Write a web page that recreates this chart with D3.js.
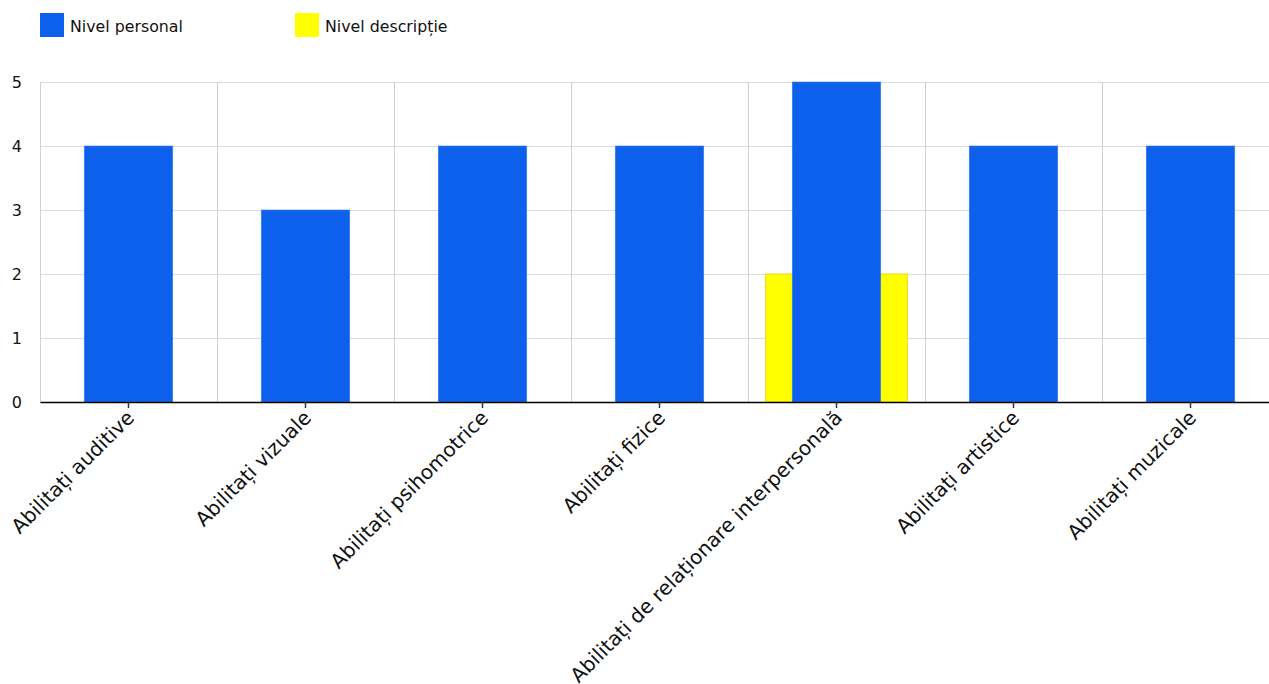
<!DOCTYPE html>
<html>
<head>
<meta charset="utf-8">
<script src="https://cdn.jsdelivr.net/npm/d3@7"></script>
<style>
  body { margin: 0; background: #fff; }
  svg { display: block; font-family: "DejaVu Sans", Verdana, sans-serif; }
</style>
</head>
<body>
<div id="root"></div>
<script>
// categories and series
let categories = [
  "Abilitați auditive",
  "Abilitați vizuale",
  "Abilitați psihomotrice",
  "Abilitați fizice",
  "Abilitați de relaționare interpersonală",
  "Abilitați artistice",
  "Abilitați muzicale"
];
let nivelPersonal = [4, 3, 4, 4, 5, 4, 4];
let nivelDescriptie = [0, 0, 0, 0, 2, 0, 0];
let yTicks = [0, 1, 2, 3, 4, 5];
let seriesNames = ["Nivel personal", "Nivel descripție"];

let width = 1269, height = 684;
let margin = { top: 82, left: 40, bottom: 402 };
let plotRight = 1279;

let svg = d3.select("#root").append("svg")
  .attr("width", width)
  .attr("height", height);

// scales
let x = d3.scaleBand().domain(categories).range([margin.left, plotRight]);
let y = d3.scaleLinear().domain([0, 5]).range([margin.bottom, margin.top]);

// horizontal grid
svg.append("g")
  .selectAll("line")
  .data(yTicks)
  .join("line")
  .attr("x1", margin.left)
  .attr("x2", plotRight)
  .attr("y1", (d) => y(d) + 0.5)
  .attr("y2", (d) => y(d) + 0.5)
  .attr("stroke", "#dcdcdc");

// vertical grid at band edges
let edges = categories.map((c) => x(c)).concat([plotRight]);
svg.append("g")
  .selectAll("line")
  .data(edges)
  .join("line")
  .attr("x1", (d) => Math.round(d) + 0.5)
  .attr("x2", (d) => Math.round(d) + 0.5)
  .attr("y1", margin.top)
  .attr("y2", margin.bottom)
  .attr("stroke", "#d0d0d0");

// yellow bars (behind)
let wYellow = x.bandwidth() * 0.8;
svg.append("g")
  .selectAll("rect")
  .data(nivelDescriptie.map((v, i) => ({ c: categories[i], v: v })).filter((d) => d.v > 0))
  .join("rect")
  .attr("x", (d) => x(d.c) + (x.bandwidth() - wYellow) / 2)
  .attr("y", (d) => y(d.v))
  .attr("width", wYellow)
  .attr("height", (d) => y(0) - y(d.v))
  .attr("fill", "#ffff00")
  .attr("stroke", "#f2d21a")
  .attr("stroke-width", 1);

// blue bars
let wBlue = x.bandwidth() * 0.5;
svg.append("g")
  .selectAll("rect")
  .data(nivelPersonal.map((v, i) => ({ c: categories[i], v: v })))
  .join("rect")
  .attr("x", (d) => x(d.c) + (x.bandwidth() - wBlue) / 2)
  .attr("y", (d) => y(d.v))
  .attr("width", wBlue)
  .attr("height", (d) => y(0) - y(d.v))
  .attr("fill", "#0d60eb")
  .attr("stroke", "#3d7ce6")
  .attr("stroke-width", 0.6);

// y axis labels
let yAxis = svg.append("g")
  .attr("transform", "translate(" + margin.left + ",0)")
  .call(d3.axisLeft(y).tickValues(yTicks).tickFormat(d3.format("d")).tickSize(0).tickPadding(18));
yAxis.select(".domain").remove();
yAxis.selectAll("text")
  .attr("font-family", "DejaVu Sans, Verdana, sans-serif")
  .attr("font-size", 16)
  .attr("fill", "#111");

// x axis
let xAxis = svg.append("g")
  .attr("transform", "translate(0," + margin.bottom + ")")
  .call(d3.axisBottom(x).tickSizeOuter(0).tickSizeInner(6));
xAxis.select(".domain").attr("stroke", "#000").attr("stroke-width", 1.5);
xAxis.selectAll(".tick line").attr("stroke", "#333").attr("stroke-width", 1.5);
xAxis.selectAll("text")
  .attr("font-family", "DejaVu Sans, Verdana, sans-serif")
  .attr("font-size", 20)
  .attr("fill", "#111")
  .attr("text-anchor", "end")
  .attr("dy", "0.35em")
  .attr("transform", "translate(2,12) rotate(-45)")
  .attr("y", 0)
  .attr("x", 0);

// legend
let legendColors = ["#0d60eb", "#ffff00"];
let legendX = [40, 295];
let legend = svg.append("g")
  .selectAll("g")
  .data(seriesNames)
  .join("g")
  .attr("transform", (d, i) => "translate(" + legendX[i] + ",13)");
legend.append("rect")
  .attr("width", 24)
  .attr("height", 24)
  .attr("fill", (d, i) => legendColors[i]);
legend.append("text")
  .attr("x", 30)
  .attr("y", 19)
  .attr("font-size", 15.8)
  .attr("fill", "#111")
  .text((d) => d);
</script>
</body>
</html>
